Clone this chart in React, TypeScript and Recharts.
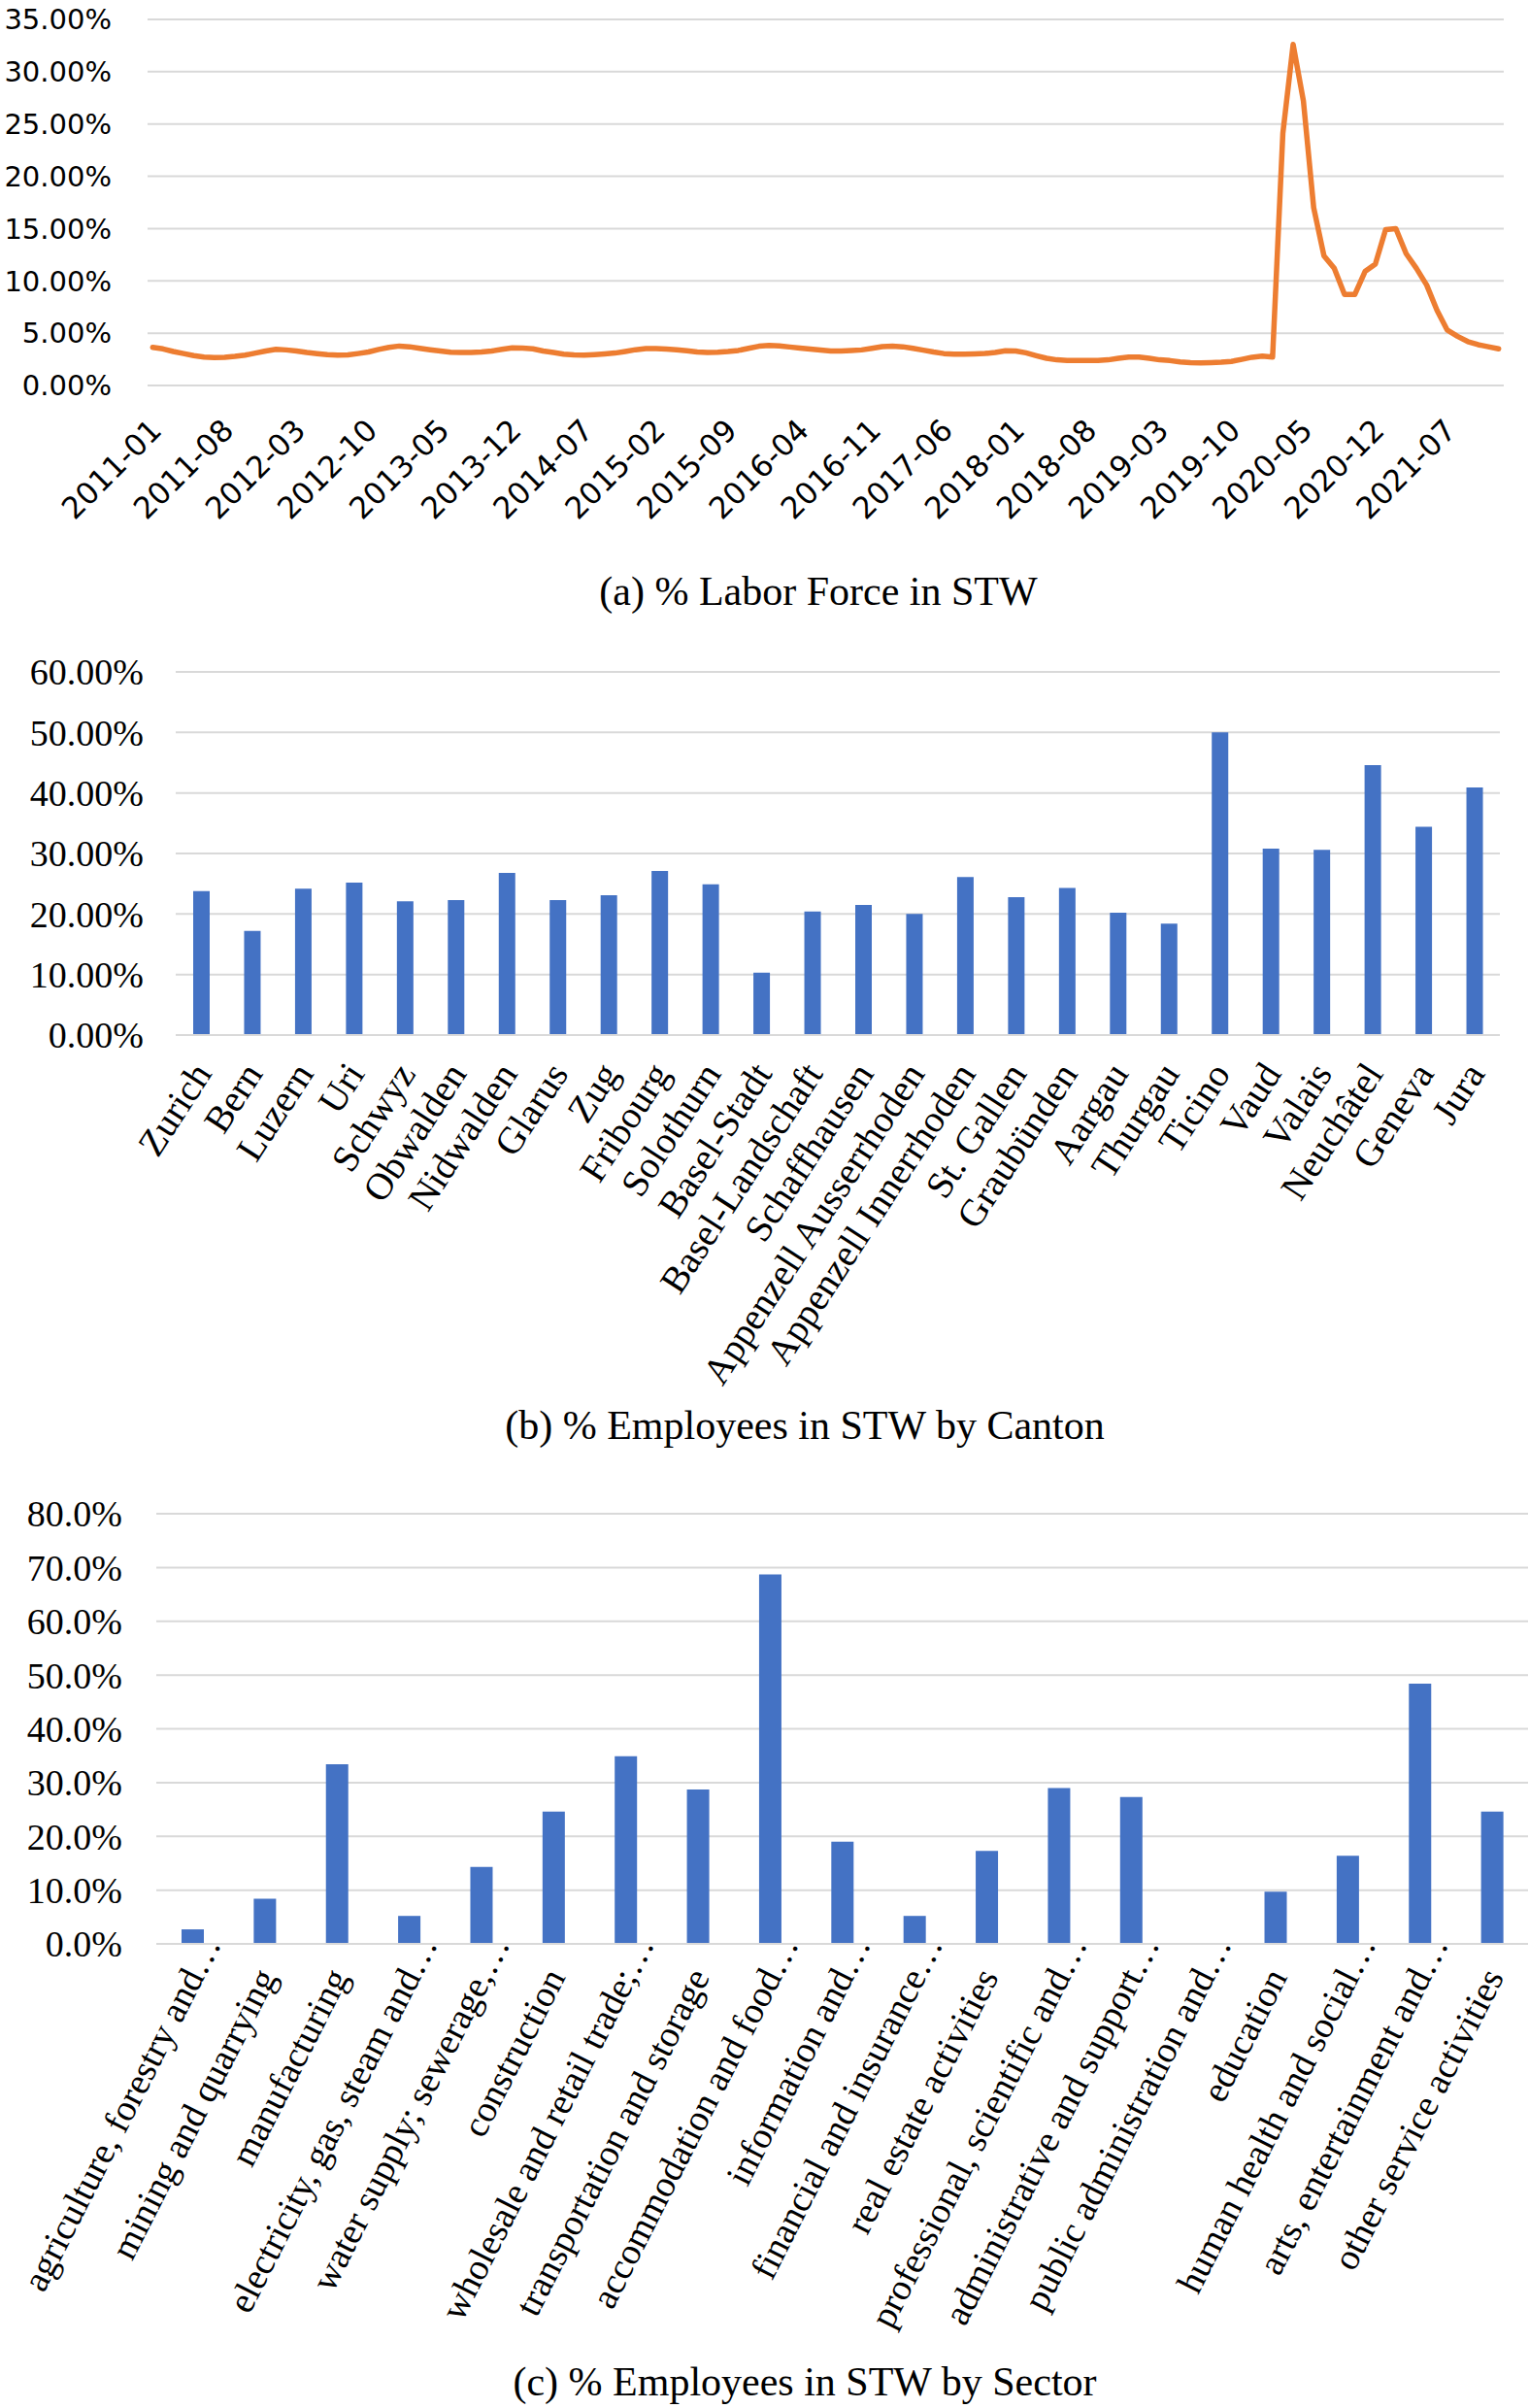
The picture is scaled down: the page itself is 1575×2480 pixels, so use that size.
import { LineChart, Line, BarChart, Bar, XAxis, YAxis, CartesianGrid } from 'recharts';

const SERIF = '"Liberation Serif", "Times New Roman", serif';
const SANS = '"DejaVu Sans", sans-serif';
const GRID = '#d9d9d9';

// (a) monthly share of labor force in STW, 2011-01 .. 2021-12
const FIRST_YEAR = 2011;
const YEARS = 11;
const months = Array.from({ length: YEARS * 12 }, (_, i) =>
  `${FIRST_YEAR + Math.floor(i / 12)}-${String((i % 12) + 1).padStart(2, '0')}`);

const laborForceStw = [
  3.65, 3.5, 3.25, 3.05, 2.85, 2.72, 2.68, 2.7, 2.78, 2.9, 3.1, 3.3,
  3.45, 3.4, 3.3, 3.15, 3.05, 2.95, 2.9, 2.92, 3.05, 3.2, 3.45, 3.65,
  3.77, 3.7, 3.55, 3.42, 3.3, 3.18, 3.15, 3.15, 3.2, 3.3, 3.45, 3.6,
  3.58, 3.5, 3.3, 3.15, 3.0, 2.92, 2.9, 2.95, 3.02, 3.1, 3.25, 3.42,
  3.52, 3.52, 3.48, 3.42, 3.32, 3.2, 3.15, 3.18, 3.25, 3.35, 3.55, 3.75,
  3.83, 3.78, 3.68, 3.58, 3.48, 3.38, 3.3, 3.3, 3.35, 3.4, 3.55, 3.72,
  3.75, 3.7, 3.55, 3.38, 3.2, 3.05, 3.0, 3.0, 3.02, 3.06, 3.15, 3.32,
  3.3, 3.12, 2.85, 2.6, 2.45, 2.4, 2.38, 2.38, 2.38, 2.45, 2.6, 2.72,
  2.72, 2.6, 2.45, 2.38, 2.25, 2.18, 2.15, 2.18, 2.22, 2.3, 2.5, 2.7,
  2.8, 2.72, 24.1, 32.6, 27.2, 17.0, 12.4, 11.2, 8.7, 8.7, 10.9, 11.6,
  14.9, 15.0, 12.6, 11.2, 9.6, 7.2, 5.3, 4.7, 4.2, 3.9, 3.7, 3.5,
];
const laborTicks = [0, 5, 10, 15, 20, 25, 30, 35];

// (b) employees in STW by canton
const cantons = [
  'Zurich', 'Bern', 'Luzern', 'Uri', 'Schwyz', 'Obwalden', 'Nidwalden', 'Glarus', 'Zug',
  'Fribourg', 'Solothurn', 'Basel-Stadt', 'Basel-Landschaft', 'Schaffhausen',
  'Appenzell Ausserrhoden', 'Appenzell Innerrhoden', 'St. Gallen', 'Graubünden', 'Aargau',
  'Thurgau', 'Ticino', 'Vaud', 'Valais', 'Neuchâtel', 'Geneva', 'Jura',
];
const cantonStw = [
  23.8, 17.2, 24.2, 25.2, 22.1, 22.3, 26.8, 22.3, 23.1, 27.1, 24.9, 10.3, 20.4,
  21.5, 20.0, 26.1, 22.8, 24.3, 20.2, 18.4, 50.0, 30.8, 30.6, 44.6, 34.4, 40.9,
];
const cantonTicks = [0, 10, 20, 30, 40, 50, 60];

// (c) employees in STW by sector
const sectors = [
  'agriculture, forestry and…', 'mining and quarrying', 'manufacturing',
  'electricity, gas, steam and…', 'water supply; sewerage,…', 'construction',
  'wholesale and retail trade;…', 'transportation and storage', 'accommodation and food…',
  'information and…', 'financial and insurance…', 'real estate activities',
  'professional, scientific and…', 'administrative and support…', 'public administration and…',
  'education', 'human health and social…', 'arts, entertainment and…', 'other service activities',
];
const sectorStw = [
  2.7, 8.4, 33.4, 5.2, 14.3, 24.6, 34.9, 28.7, 68.7, 19.0,
  5.2, 17.3, 29.0, 27.3, 0, 9.7, 16.4, 48.4, 24.6,
];
const sectorTicks = [0, 10, 20, 30, 40, 50, 60, 70, 80];

const lineData = months.map((m, i) => ({ name: m, v: laborForceStw[i] }));
const cantonData = cantons.map((c, i) => ({ name: c, v: cantonStw[i] }));
const sectorData = sectors.map((s, i) => ({ name: s, v: sectorStw[i] }));

function SlantTick(props: any) {
  const { x, y, payload, angle, dx, dy, font, size } = props;
  const label = String(payload.value);
  const cut = label.endsWith('…');
  const base = cut ? label.slice(0, -1) : label;
  return (
    <g transform={`translate(${x + dx},${y + dy}) rotate(${-angle})`}>
      <text textAnchor="end" fontFamily={font} fontSize={size} fill="#000">{base}</text>
      {cut && <text textAnchor="start" fontFamily={font} fontSize={size} fill="#000">…</text>}
    </g>
  );
}

function Caption({ text, cx, cy }: { text: string; cx: number; cy: number }) {
  return (
    <div style={{
      position: 'absolute', left: cx - 500, top: cy - 24, width: 1000, textAlign: 'center',
      fontFamily: SERIF, fontSize: 42, lineHeight: '48px', color: '#000',
    }}>{text}</div>
  );
}

export default function App() {
  return (
    <div style={{ position: 'absolute', left: 0, top: 0, width: 1575, height: 2480, background: '#fff' }}>
      <div style={{ position: 'absolute', left: 0, top: 0 }}>
        <LineChart width={1575} height={560} data={lineData} margin={{ top: 20, right: 26, bottom: 0, left: 0 }}>
          <CartesianGrid vertical={false} stroke={GRID} strokeWidth={2} />
          <XAxis
            dataKey="name" height={163} interval={6} padding={{ left: 5.3, right: 5.3 }}
            axisLine={{ stroke: GRID, strokeWidth: 2 }} tickLine={false} tickSize={0} tickMargin={0}
            tick={(p: any) => <SlantTick {...p} angle={45} dx={11} dy={48} font={SANS} size={31} />}
          />
          <YAxis
            width={152} domain={[0, 35]} ticks={laborTicks} interval={0}
            tickFormatter={(v: number) => `${v.toFixed(2)}%`}
            axisLine={false} tickLine={false} tickSize={0} tickMargin={37}
            tick={{ fontFamily: SANS, fontSize: 29, fill: '#000' }}
          />
          <Line
            type="linear" dataKey="v" stroke="#ED7D31" strokeWidth={5.5} dot={false}
            strokeLinejoin="round" strokeLinecap="round" isAnimationActive={false}
          />
        </LineChart>
      </div>

      <div style={{ position: 'absolute', left: 0, top: 640 }}>
        <BarChart width={1575} height={800} data={cantonData} margin={{ top: 52, right: 30, bottom: 0, left: 0 }}>
          <CartesianGrid vertical={false} stroke={GRID} strokeWidth={2} />
          <XAxis
            dataKey="name" height={374} interval={0}
            axisLine={{ stroke: GRID, strokeWidth: 2 }} tickLine={false} tickSize={0} tickMargin={0}
            tick={(p: any) => <SlantTick {...p} angle={57} dx={12} dy={40} font={SERIF} size={39} />}
          />
          <YAxis
            width={181} domain={[0, 60]} ticks={cantonTicks} interval={0}
            tickFormatter={(v: number) => `${v.toFixed(2)}%`}
            axisLine={false} tickLine={false} tickSize={0} tickMargin={33}
            tick={{ fontFamily: SERIF, fontSize: 38, fill: '#000' }}
          />
          <Bar dataKey="v" fill="#4472C4" barSize={17} isAnimationActive={false} />
        </BarChart>
      </div>

      <div style={{ position: 'absolute', left: 0, top: 1520 }}>
        <BarChart width={1575} height={900} data={sectorData} margin={{ top: 39, right: 1, bottom: 0, left: 0 }}>
          <CartesianGrid vertical={false} stroke={GRID} strokeWidth={2} />
          <XAxis
            dataKey="name" height={418} interval={0}
            axisLine={{ stroke: GRID, strokeWidth: 2 }} tickLine={false} tickSize={0} tickMargin={0}
            tick={(p: any) => <SlantTick {...p} angle={63} dx={13} dy={34} font={SERIF} size={38} />}
          />
          <YAxis
            width={161} domain={[0, 80]} ticks={sectorTicks} interval={0}
            tickFormatter={(v: number) => `${v.toFixed(1)}%`}
            axisLine={false} tickLine={false} tickSize={0} tickMargin={35}
            tick={{ fontFamily: SERIF, fontSize: 38, fill: '#000' }}
          />
          <Bar dataKey="v" fill="#4472C4" barSize={23} isAnimationActive={false} />
        </BarChart>
      </div>

      <Caption text="(a) % Labor Force in STW" cx={843} cy={609} />
      <Caption text="(b) % Employees in STW by Canton" cx={829} cy={1468} />
      <Caption text="(c) % Employees in STW by Sector" cx={829} cy={2453} />
    </div>
  );
}
